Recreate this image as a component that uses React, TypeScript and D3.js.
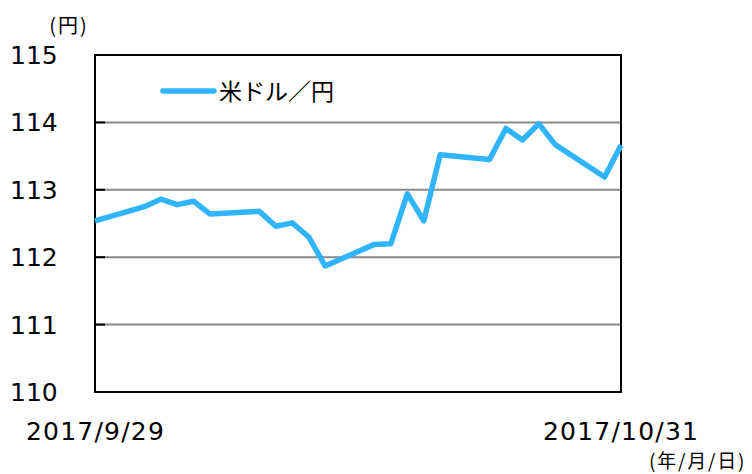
import React, { useEffect, useRef } from "react";
import * as d3 from "d3";

// USD/JPY daily rates, 2017/9/29 - 2017/10/31
const dates = [
  "2017-09-29", "2017-10-02", "2017-10-03", "2017-10-04", "2017-10-05", "2017-10-06",
  "2017-10-09", "2017-10-10", "2017-10-11", "2017-10-12", "2017-10-13",
  "2017-10-16", "2017-10-17", "2017-10-18", "2017-10-19", "2017-10-20",
  "2017-10-23", "2017-10-24", "2017-10-25", "2017-10-26", "2017-10-27",
  "2017-10-30", "2017-10-31",
];
const usdJpy = [
  112.54, 112.75, 112.86, 112.78, 112.83, 112.64,
  112.68, 112.46, 112.51, 112.3, 111.87,
  112.19, 112.2, 112.94, 112.54, 113.52,
  113.45, 113.91, 113.74, 113.98, 113.67,
  113.19, 113.66,
];
const yTicks = [110, 111, 112, 113, 114, 115];
const xLabels = ["2017/9/29", "2017/10/31"];
const seriesName = "米ドル／円";

const width = 752;
const height = 474;
const lineColor = "#30b4fb";
const numFont = "'DejaVu Sans', Verdana, sans-serif";
const jpFont = "'Noto Sans CJK JP', sans-serif";

export default function App() {
  const svgRef = useRef<SVGSVGElement>(null);

  useEffect(() => {
    document.body.style.margin = "0";
    const svg = d3.select(svgRef.current);
    svg.selectAll("*").remove();

    const margin = { top: 55, right: 131, bottom: 82, left: 95 };
    const parse = d3.utcParse("%Y-%m-%d");
    const data = dates.map((d, i) => ({ date: parse(d) as Date, value: usdJpy[i] }));

    const x = d3
      .scaleUtc()
      .domain(d3.extent(data, (d) => d.date) as [Date, Date])
      .range([margin.left, width - margin.right]);
    const y = d3
      .scaleLinear()
      .domain([110, 115])
      .range([height - margin.bottom, margin.top]);

    const [x0, x1] = x.range();
    const [yB, yT] = y.range();

    // gridlines
    svg
      .append("g")
      .selectAll("line")
      .data(yTicks.filter((t) => t > 110 && t < 115))
      .enter()
      .append("line")
      .attr("x1", x0)
      .attr("x2", x1)
      .attr("y1", (d) => y(d))
      .attr("y2", (d) => y(d))
      .attr("stroke", "#8a8a8a")
      .attr("stroke-width", 2);

    // small ticks inside left axis
    svg
      .append("g")
      .selectAll("line")
      .data(yTicks)
      .enter()
      .append("line")
      .attr("x1", x0)
      .attr("x2", x0 + 10)
      .attr("y1", (d) => y(d))
      .attr("y2", (d) => y(d))
      .attr("stroke", "#000")
      .attr("stroke-width", 2);

    // frame
    svg
      .append("rect")
      .attr("x", x0)
      .attr("y", yT)
      .attr("width", x1 - x0)
      .attr("height", yB - yT)
      .attr("fill", "none")
      .attr("stroke", "#000")
      .attr("stroke-width", 2);

    // y labels
    svg
      .append("g")
      .selectAll("text")
      .data(yTicks)
      .enter()
      .append("text")
      .attr("x", 10)
      .attr("y", (d) => y(d))
      .attr("dy", "0.36em")
      .style("font-family", numFont)
      .style("font-size", "25px")
      .text((d) => d);

    svg
      .append("text")
      .attr("x", 69)
      .attr("y", 26)
      .attr("dy", "0.36em")
      .attr("text-anchor", "middle")
      .style("font-family", jpFont)
      .style("font-size", "20px")
      .style("letter-spacing", "2px")
      .text("(円)");

    // x labels
    svg
      .append("text")
      .attr("x", 26)
      .attr("y", 431)
      .attr("dy", "0.36em")
      .style("font-family", numFont)
      .style("font-size", "25px")
      .style("letter-spacing", "1.2px")
      .text(xLabels[0]);
    svg
      .append("text")
      .attr("x", 543)
      .attr("y", 431)
      .attr("dy", "0.36em")
      .style("font-family", numFont)
      .style("font-size", "25px")
      .style("letter-spacing", "1.2px")
      .text(xLabels[1]);

    svg
      .append("text")
      .attr("x", 649)
      .attr("y", 461)
      .attr("dy", "0.36em")
      .style("font-family", jpFont)
      .style("font-size", "19px")
      .style("letter-spacing", "1.8px")
      .text("(年/月/日)");

    // line
    const line = d3
      .line<{ date: Date; value: number }>()
      .x((d) => x(d.date))
      .y((d) => y(d.value));

    svg
      .append("path")
      .datum(data)
      .attr("fill", "none")
      .attr("stroke", lineColor)
      .attr("stroke-width", 5.5)
      .attr("stroke-linejoin", "round")
      .attr("d", line);

    // legend
    svg
      .append("line")
      .attr("x1", 163)
      .attr("x2", 214)
      .attr("y1", 91)
      .attr("y2", 91)
      .attr("stroke", lineColor)
      .attr("stroke-width", 5.5)
      .attr("stroke-linecap", "round");
    svg
      .append("text")
      .attr("x", 219)
      .attr("y", 92)
      .attr("dy", "0.36em")
      .style("font-family", jpFont)
      .style("font-size", "23px")
      .text(seriesName);
  }, []);

  return <svg ref={svgRef} width={width} height={height} style={{ display: "block", background: "#fff" }}></svg>;
}
